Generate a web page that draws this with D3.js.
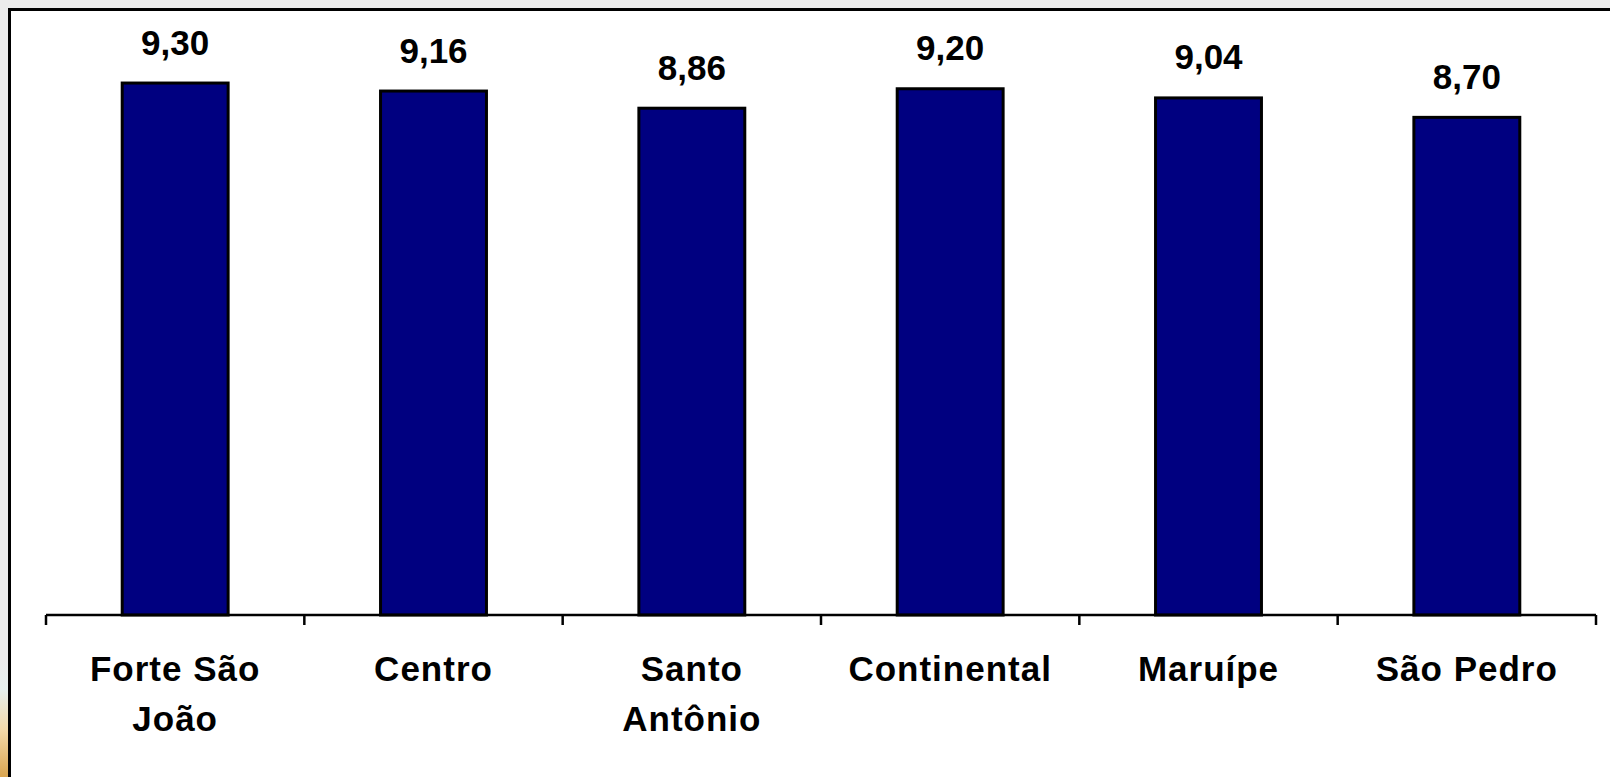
<!DOCTYPE html>
<html>
<head>
<meta charset="utf-8">
<script src="https://cdn.jsdelivr.net/npm/d3@7"></script>
<style>
  html, body { margin: 0; padding: 0; background: #ebebeb; }
  svg { display: block; }
  text { font-family: "Liberation Sans", Arial, sans-serif; font-weight: bold; fill: #000; }
</style>
</head>
<body>
<svg id="chart" width="1610" height="777"></svg>
<script>
const categories = ["Forte São João", "Centro", "Santo Antônio", "Continental", "Maruípe", "São Pedro"];
const values = [9.30, 9.16, 8.86, 9.20, 9.04, 8.70];
const valueLabels = ["9,30", "9,16", "8,86", "9,20", "9,04", "8,70"];
const yDomain = [0, 10];

const svg = d3.select("#chart");
const W = 1610, H = 777;

// decorative sliver at bottom-left (background picture edge)
const defs = svg.append("defs");
const g1 = defs.append("linearGradient").attr("id", "edge").attr("x1", 0).attr("y1", 0).attr("x2", 0).attr("y2", 1);
g1.append("stop").attr("offset", "0%").attr("stop-color", "#ebebeb");
g1.append("stop").attr("offset", "25%").attr("stop-color", "#e6f0ee");
g1.append("stop").attr("offset", "60%").attr("stop-color", "#f3d9a8");
g1.append("stop").attr("offset", "100%").attr("stop-color", "#d9a550");
svg.append("rect").attr("x", 0).attr("y", 660).attr("width", 8).attr("height", H - 660).attr("fill", "url(#edge)");

// white chart frame
svg.append("rect").attr("x", 9.5).attr("y", 9.5).attr("width", W + 20).attr("height", H + 20)
  .attr("fill", "#fff").attr("stroke", "#000").attr("stroke-width", 3);

const x = d3.scaleBand().domain(categories).range([46, 1596]).paddingInner(0.59).paddingOuter(0.295);
const y = d3.scaleLinear().domain(yDomain).range([615, 43]);

// bars
svg.append("g").selectAll("rect").data(values).join("rect")
  .attr("x", (d, i) => x(categories[i]))
  .attr("y", d => y(d))
  .attr("width", x.bandwidth())
  .attr("height", d => y(0) - y(d))
  .attr("fill", "#000080")
  .attr("stroke", "#000")
  .attr("stroke-width", 3);

// value labels
svg.append("g").selectAll("text").data(values).join("text")
  .attr("x", (d, i) => x(categories[i]) + x.bandwidth() / 2)
  .attr("y", d => y(d) - 28.5)
  .attr("text-anchor", "middle")
  .style("font-size", "35px")
  .text((d, i) => valueLabels[i]);

// category axis
const xTicks = d3.scaleBand().domain(categories).range([46, 1596]);
const axisG = svg.append("g");
axisG.append("line").attr("x1", 46).attr("x2", 1596).attr("y1", y(0)).attr("y2", y(0))
  .attr("stroke", "#000").attr("stroke-width", 2.5);
const tickPos = categories.map(c => xTicks(c)).concat([1596]);
axisG.selectAll("line.tick").data(tickPos).join("line").attr("class", "tick")
  .attr("x1", d => d).attr("x2", d => d)
  .attr("y1", y(0)).attr("y2", y(0) + 10)
  .attr("stroke", "#000").attr("stroke-width", 2.5);

// category labels with wrapping
const wrapWidth = 215;
const labels = axisG.selectAll("text.cat").data(categories).join("text").attr("class", "cat")
  .attr("text-anchor", "middle")
  .style("font-size", "35px")
  .style("letter-spacing", "1px");
labels.each(function(c) {
  const t = d3.select(this);
  const cx = xTicks(c) + xTicks.bandwidth() / 2;
  const words = c.split(" ");
  let lines = [], cur = [];
  const tmp = t.append("tspan");
  words.forEach(w => {
    const test = cur.concat([w]).join(" ");
    tmp.text(test);
    if (tmp.node().getComputedTextLength() > wrapWidth && cur.length) {
      lines.push(cur.join(" "));
      cur = [w];
    } else cur.push(w);
  });
  lines.push(cur.join(" "));
  tmp.remove();
  lines.forEach((l, i) => {
    t.append("tspan").attr("x", cx).attr("y", 681 + i * 50).text(l);
  });
});
</script>
</body>
</html>
